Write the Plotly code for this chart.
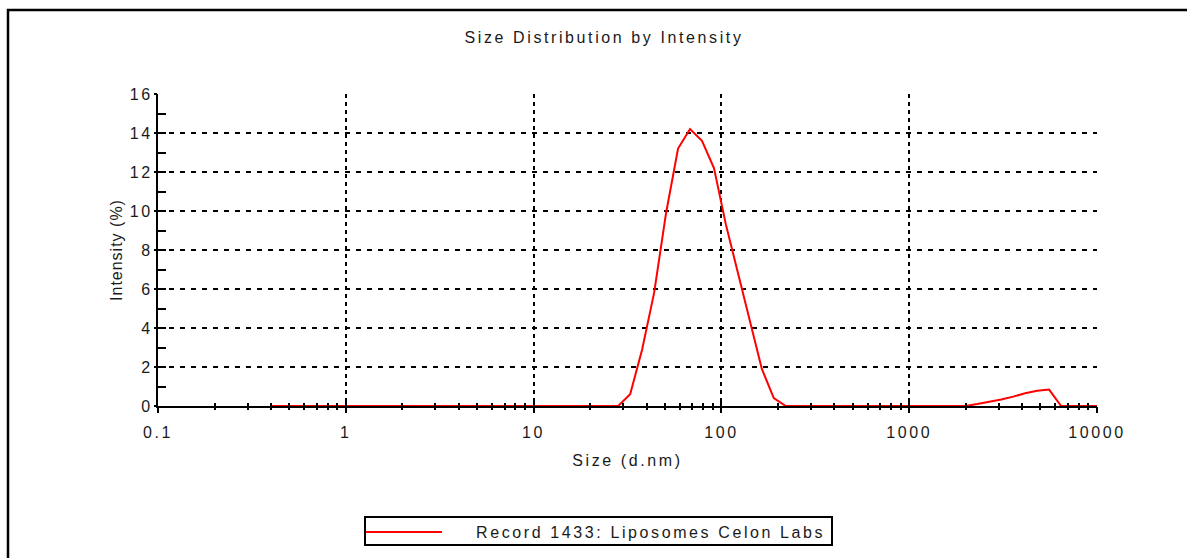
import plotly.graph_objects as go

# ---- data ----
size_nm = [0.4, 0.4632, 0.5365, 0.6213, 0.7195, 0.8332, 0.9649, 1.117, 1.294, 1.499,
           1.736, 2.01, 2.328, 2.696, 3.122, 3.615, 4.187, 4.849, 5.615, 6.503,
           7.531, 8.721, 10.1, 11.7, 13.54, 15.69, 18.17, 21.04, 24.36, 28.21,
           32.67, 37.84, 43.82, 50.75, 58.77, 68.06, 78.82, 91.28, 105.7, 122.4,
           141.8, 164.2, 190.1, 220.2, 255.0, 295.3, 342.0, 396.1, 458.7, 531.2,
           615.1, 712.4, 825.0, 955.4, 1106, 1281, 1484, 1718, 1990, 2305,
           2669, 3091, 3580, 4145, 4801, 5560, 6439, 7456, 8635, 10000]
intensity = [0, 0, 0, 0, 0, 0, 0, 0, 0, 0,
             0, 0, 0, 0, 0, 0, 0, 0, 0, 0,
             0, 0, 0, 0, 0, 0, 0, 0, 0, 0,
             0.6, 2.9, 5.8, 9.9, 13.2, 14.2, 13.6, 12.2, 9.3, 6.8,
             4.3, 1.9, 0.4, 0, 0, 0, 0, 0, 0, 0,
             0, 0, 0, 0, 0, 0, 0, 0, 0, 0.1,
             0.2, 0.33, 0.48, 0.65, 0.78, 0.84, 0, 0, 0, 0]
series_name = "Record 1433: Liposomes Celon Labs"
x_tickvals = [0.1, 1, 10, 100, 1000, 10000]
x_ticktext = ["0.1", "1", "10", "100", "1000", "10000"]
y_tickvals = [0, 2, 4, 6, 8, 10, 12, 14, 16]

FONT = "Liberation Sans, Arial, sans-serif"
TXT = "#1a1a1a"
FS = 16

# plot area in pixels (for paper-coordinate helpers)
L, R, T, B = 158, 1097, 94, 406
W, H = R - L, B - T


def px(xp):
    return (xp - L) / W


def py(yp):
    return (B - yp) / H


fig = go.Figure()
fig.add_trace(go.Scatter(x=size_nm, y=intensity, mode="lines", name=series_name,
                         line=dict(color="#ff0000", width=2), showlegend=False))
# helper trace so the overlay axes (crossing ticks) render
fig.add_trace(go.Scatter(x=size_nm, y=intensity, mode="lines", xaxis="x2", yaxis="y2",
                         line=dict(color="rgba(0,0,0,0)", width=0), hoverinfo="skip",
                         showlegend=False))

fig.update_layout(
    width=1187, height=558,
    margin=dict(l=L, r=1187 - R, t=T, b=558 - B),
    paper_bgcolor="white", plot_bgcolor="white",
    font=dict(family=FONT, size=FS, color=TXT),
    title=dict(text="Size Distribution by Intensity", x=604 / 1187, xanchor="center",
               y=1 - 37 / 558, yanchor="middle", font=dict(size=FS, color=TXT)),
    xaxis=dict(type="log", range=[-1, 4], tickvals=x_tickvals, ticktext=x_ticktext,
               showline=True, linecolor="black", linewidth=2,
               ticks="inside", ticklen=6, tickwidth=2, tickcolor="black",
               ticklabelstandoff=11, tickfont=dict(size=FS, color=TXT),
               minor=dict(dtick="D1", ticks="inside", ticklen=3, tickwidth=2,
                          tickcolor="black", showgrid=False),
               zeroline=False,
               showgrid=True, gridcolor="black", gridwidth=2, griddash="4px,4px",
               title=dict(text="Size (d.nm)", standoff=15, font=dict(size=FS, color=TXT))),
    yaxis=dict(range=[0, 16], tickvals=y_tickvals,
               showline=True, linecolor="black", linewidth=2,
               ticks="inside", ticklen=8, tickwidth=2, tickcolor="black",
               ticklabelstandoff=0, tickfont=dict(size=FS, color=TXT),
               minor=dict(dtick=1, ticks="inside", ticklen=8, tickwidth=2,
                          tickcolor="black", showgrid=False),
               zeroline=False,
               showgrid=True, gridcolor="black", gridwidth=2, griddash="5px,6px",
               title=dict(text="Intensity (%)", standoff=8, font=dict(size=FS, color=TXT))),
    xaxis2=dict(type="log", range=[-1, 4], overlaying="x", anchor="y", side="bottom",
                tickvals=x_tickvals, showticklabels=False, showgrid=False, zeroline=False,
                ticks="outside", ticklen=6, tickwidth=2, tickcolor="black",
                minor=dict(dtick="D1", ticks="outside", ticklen=3, tickwidth=2,
                           tickcolor="black", showgrid=False)),
    yaxis2=dict(range=[0, 16], overlaying="y", anchor="x", side="left",
                tickvals=y_tickvals, showticklabels=False, showgrid=False, zeroline=False,
                ticks="outside", ticklen=3, tickwidth=2, tickcolor="black"),
    showlegend=False,
)

# outer frame (top and left edges visible in the reference)
fig.add_shape(type="rect", xref="paper", yref="paper",
              x0=px(8), x1=px(1200), y0=py(570), y1=py(10),
              line=dict(color="black", width=2.5), fillcolor="rgba(0,0,0,0)", layer="below")

# legend box
fig.add_shape(type="rect", xref="paper", yref="paper",
              x0=px(365), x1=px(832), y0=py(545), y1=py(517),
              line=dict(color="black", width=2), fillcolor="white")
fig.add_shape(type="line", xref="paper", yref="paper",
              x0=px(366), x1=px(442), y0=py(532), y1=py(532),
              line=dict(color="#ff0000", width=2))
fig.add_annotation(xref="paper", yref="paper", x=px(650), y=py(532),
                   xanchor="center", yanchor="middle", showarrow=False,
                   text=series_name, font=dict(size=FS, color=TXT))

# the reference lettering is noticeably wider than Arial: widen via letter-spacing
post = """
var gd = document.getElementById('{plot_id}');
gd.querySelectorAll('text').forEach(function(t){
  var cls = t.getAttribute('class') || '';
  t.style.letterSpacing = (cls.indexOf('ytitle') >= 0) ? '1px' : '2.6px';
});
"""

fig.write_html("out.html", post_script=post)
